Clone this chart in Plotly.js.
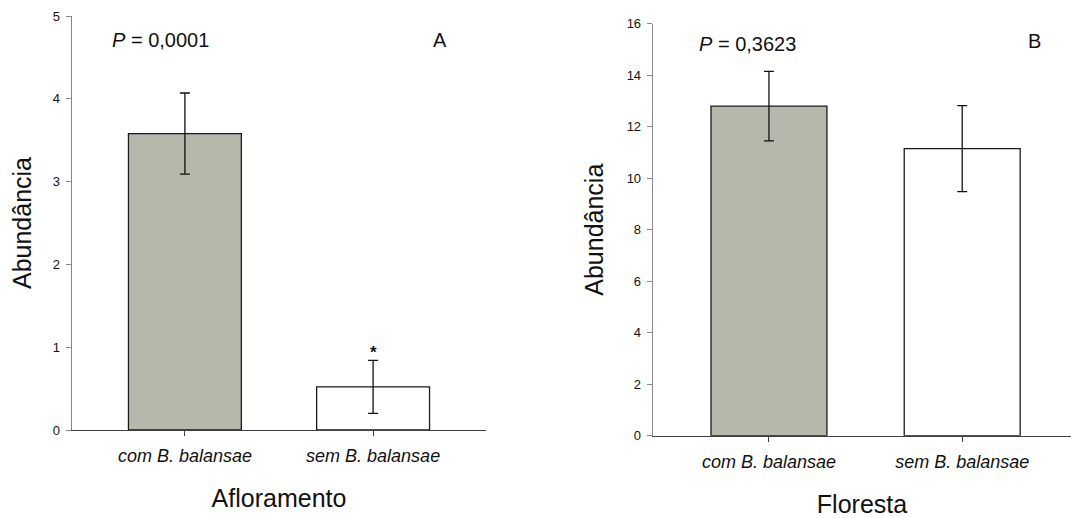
<!DOCTYPE html>
<html><head><meta charset="utf-8">
<script src="https://cdn.plot.ly/plotly-3.0.1.min.js"></script>
<style>html,body{margin:0;padding:0;background:#fff}#chart{width:1071px;height:518px}</style>
</head><body><div id="chart"></div>
<script>
// ---- data ----
const categories = ['com B. balansae', 'sem B. balansae'];
const afloramentoMeans = [3.58, 0.52];
const afloramentoErrors = [0.49, 0.32];
const florestaMeans = [12.8, 11.15];
const florestaErrors = [1.35, 1.67];
const barColors = ['#b7b7ab', '#ffffff'];
const yTicksA = [0, 1, 2, 3, 4, 5];
const yTicksB = [0, 2, 4, 6, 8, 10, 12, 14, 16];
const pValues = ['0,0001', '0,3623'];
const panelLabels = ['A', 'B'];
const xTitles = ['Afloramento', 'Floresta'];
const yTitle = 'Abundância';
const significant = [false, true]; // asterisk on Afloramento bars

// ---- styling ----
const FONT = 'Liberation Sans, Arial, sans-serif';
const W = 1071, H = 518;
function fx(px) { return px / W; }
function fy(px) { return 1 - px / H; }

function barTrace(means, errs, xa, ya) {
  return {
    type: 'bar', x: categories, y: means, xaxis: xa, yaxis: ya,
    width: 0.6,
    marker: { color: barColors, line: { color: '#1a1a1a', width: 1.3 } },
    error_y: { type: 'data', array: errs, visible: true, color: '#111', thickness: 1.3, width: 5 },
    showlegend: false, hoverinfo: 'x+y'
  };
}

const data = [
  barTrace(afloramentoMeans, afloramentoErrors, 'x', 'y'),
  barTrace(florestaMeans, florestaErrors, 'x2', 'y2')
];

function xAxis(domain, range, title, standoff) {
  return {
    domain: domain, range: range, type: 'category',
    showline: true, linecolor: '#404040', linewidth: 1.3,
    ticks: 'outside', ticklen: 5, tickcolor: '#404040', tickwidth: 1,
    tickfont: { family: FONT, size: 18, style: 'italic', color: '#111' },
    ticklabelstandoff: 4,
    showgrid: false, zeroline: false, fixedrange: true,
    title: { text: title, font: { family: FONT, size: 25, color: '#111' }, standoff: standoff }
  };
}
function yAxis(domain, range, ticks, anchor, standoff) {
  return {
    domain: domain, range: range, anchor: anchor,
    tickvals: ticks, ticktext: ticks.map(String),
    showline: true, linecolor: '#888', linewidth: 1.3,
    ticks: 'outside', ticklen: 5, tickcolor: '#888', tickwidth: 1,
    tickfont: { family: FONT, size: 13, color: '#111' },
    ticklabelstandoff: 3,
    showgrid: false, zeroline: false, fixedrange: true,
    title: { text: yTitle, font: { family: FONT, size: 25, color: '#111' }, standoff: standoff }
  };
}

const annotations = [];
const pPos = [{ x: 160, y: 40 }, { x: 747, y: 44 }];
const lPos = [{ x: 440, y: 40 }, { x: 1034, y: 41 }];
for (let i = 0; i < 2; i++) {
  annotations.push({
    xref: 'paper', yref: 'paper', x: fx(pPos[i].x), y: fy(pPos[i].y),
    xanchor: 'center', yanchor: 'middle', showarrow: false,
    text: '<i>P</i> = ' + pValues[i], font: { family: FONT, size: 20, color: '#111' }
  });
  annotations.push({
    xref: 'paper', yref: 'paper', x: fx(lPos[i].x), y: fy(lPos[i].y),
    xanchor: 'center', yanchor: 'middle', showarrow: false,
    text: panelLabels[i], font: { family: FONT, size: 20, color: '#111' }
  });
}
categories.forEach((c, i) => {
  if (significant[i]) {
    annotations.push({
      xref: 'x', yref: 'y', x: c, y: afloramentoMeans[i] + afloramentoErrors[i],
      xanchor: 'center', yanchor: 'bottom', yshift: -4, showarrow: false,
      text: '<b>*</b>', font: { family: FONT, size: 17, color: '#111' }
    });
  }
});

const layout = {
  width: W, height: H,
  margin: { l: 0, r: 0, t: 0, b: 0 },
  paper_bgcolor: '#fff', plot_bgcolor: '#fff',
  bargap: 0.4,
  xaxis: xAxis([fx(72), fx(486)], [-0.6, 1.6], xTitles[0], 24),
  yaxis: yAxis([fy(430), fy(16)], [0, 5], yTicksA, 'x', 14),
  xaxis2: Object.assign(xAxis([fx(653), 1], [-0.6, 1.563], xTitles[1], 27), { anchor: 'y2' }),
  yaxis2: yAxis([fy(435.7), fy(23.7)], [0, 16], yTicksB, 'x2', 16),
  annotations: annotations,
  font: { family: FONT, color: '#111' }
};
layout.xaxis.anchor = 'y';

Plotly.newPlot('chart', data, layout, { displayModeBar: false, staticPlot: true });
</script>
</body></html>
